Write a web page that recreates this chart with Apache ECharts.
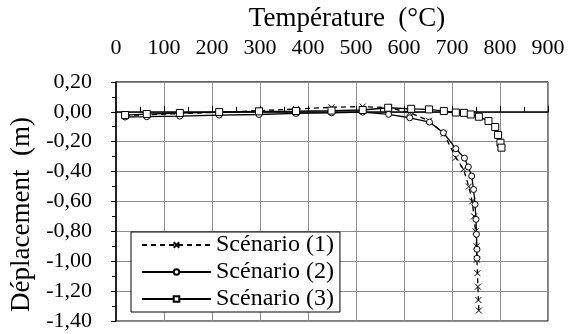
<!DOCTYPE html>
<html>
<head>
<meta charset="utf-8">
<script src="https://cdn.jsdelivr.net/npm/echarts@6/dist/echarts.min.js"></script>
<style>
  html, body { margin: 0; padding: 0; background: #fff; }
  #chart { width: 568px; height: 334px; }
</style>
</head>
<body>
<div id="chart"></div>
<script>
// Temperature (°C) and vertical displacement (m) for each fire scenario
const temp1 = [19, 64, 133, 215, 298, 375, 449, 514, 568, 612, 652, 683, 708, 724, 735, 742, 746, 749, 751, 752, 753, 754, 755, 756];
const disp1 = [-0.025, -0.02, -0.012, -0.003, 0.008, 0.018, 0.03, 0.035, 0.027, -0.005, -0.06, -0.147, -0.307, -0.384, -0.50, -0.60, -0.70, -0.80, -0.90, -0.99, -1.08, -1.17, -1.26, -1.33];

const temp2 = [19, 64, 133, 215, 298, 375, 449, 514, 568, 612, 653, 682, 708, 726, 734, 741, 745, 748, 750, 751, 752, 752];
const disp2 = [-0.035, -0.033, -0.029, -0.022, -0.018, -0.011, -0.007, -0.002, -0.017, -0.04, -0.069, -0.14, -0.247, -0.31, -0.369, -0.43, -0.52, -0.62, -0.72, -0.82, -0.92, -0.98];

const temp3 = [19, 64, 133, 215, 298, 375, 449, 514, 567, 615, 652, 683, 708, 725, 739, 756, 776, 790, 796, 801, 803];
const disp3 = [-0.022, -0.015, -0.008, -0.002, 0.003, 0.005, 0.008, 0.012, 0.027, 0.02, 0.016, 0.005, -0.005, -0.007, -0.018, -0.033, -0.062, -0.102, -0.155, -0.207, -0.24];

const seriesNames = ['Scénario (1)', 'Scénario (2)', 'Scénario (3)'];
const xTicks = { min: 0, max: 900, step: 100 };
const yTicks = { min: -1.4, max: 0.2, step: 0.2 };

const pairs = (xs, ys) => xs.map((x, i) => [x, ys[i]]);
const FONT = 'Liberation Serif';
const crossSymbol = 'path://M0,0L10,10M10,0L0,10';

const chart = echarts.init(document.getElementById('chart'), null, { renderer: 'canvas' });

function lineSeries(name, data, symbol, size, dashed) {
  return {
    name: name,
    type: 'line',
    data: data,
    symbol: symbol,
    symbolSize: size,
    showAllSymbol: true,
    lineStyle: { color: '#000', width: 1.3, type: dashed ? [5, 4] : 'solid' },
    itemStyle: {
      color: symbol === crossSymbol ? '#000' : '#fff',
      borderColor: '#000',
      borderWidth: 1
    },
    emphasis: { disabled: true },
    z: 3
  };
}

chart.setOption({
  animation: false,
  backgroundColor: '#fff',
  textStyle: { fontFamily: FONT, color: '#000' },
  grid: {
    left: 116, right: 20, top: 81, bottom: 13,
    show: true, borderColor: '#000', borderWidth: 1, backgroundColor: 'transparent'
  },
  xAxis: {
    type: 'value',
    position: 'top',
    min: xTicks.min, max: xTicks.max, interval: xTicks.step,
    name: 'Température  (°C)',
    nameLocation: 'middle',
    nameGap: 48,
    nameTextStyle: { fontFamily: FONT, fontSize: 27, color: '#000', padding: [0, 0, 0, 30] },
    axisLine: { show: true, lineStyle: { color: '#000', width: 1.5 } },
    axisTick: { show: true, inside: false, length: 6, lineStyle: { color: '#000', width: 1 } },
    minorTick: { show: true, splitNumber: 2, length: 5, lineStyle: { color: '#000', width: 1 } },
    axisLabel: { fontFamily: FONT, fontSize: 22, color: '#000', margin: 23 },
    splitLine: { show: true, lineStyle: { color: '#8c8c8c', width: 1 } }
  },
  yAxis: {
    type: 'value',
    min: yTicks.min, max: yTicks.max, interval: yTicks.step,
    name: 'Déplacement  (m)',
    nameLocation: 'middle',
    nameGap: 80,
    nameTextStyle: { fontFamily: FONT, fontSize: 27, color: '#000', padding: [0, 26, 0, 0] },
    axisLine: { show: true, onZero: false, lineStyle: { color: '#000', width: 1.5 } },
    axisTick: { show: true, inside: false, length: 5, lineStyle: { color: '#000', width: 1 } },
    minorTick: { show: true, splitNumber: 2, length: 4, lineStyle: { color: '#000', width: 1 } },
    axisLabel: {
      fontFamily: FONT, fontSize: 22, color: '#000', margin: 24,
      formatter: v => v.toFixed(2).replace('.', ',')
    },
    splitLine: { show: true, lineStyle: { color: '#8c8c8c', width: 1 } }
  },
  legend: {
    orient: 'vertical',
    left: 131, top: 232,
    data: seriesNames,
    itemWidth: 69, itemHeight: 7,
    itemGap: 3,
    padding: [1, 6, 1, 10],
    backgroundColor: '#fff',
    borderColor: '#000', borderWidth: 1,
    borderRadius: 0,
    selectedMode: false,
    textStyle: { fontFamily: FONT, fontSize: 24, color: '#000', lineHeight: 24 }
  },
  series: [
    lineSeries(seriesNames[0], pairs(temp1, disp1), crossSymbol, 6, true),
    lineSeries(seriesNames[1], pairs(temp2, disp2), 'circle', 6, false),
    lineSeries(seriesNames[2], pairs(temp3, disp3), 'rect', 7, false)
  ]
});
</script>
</body>
</html>
